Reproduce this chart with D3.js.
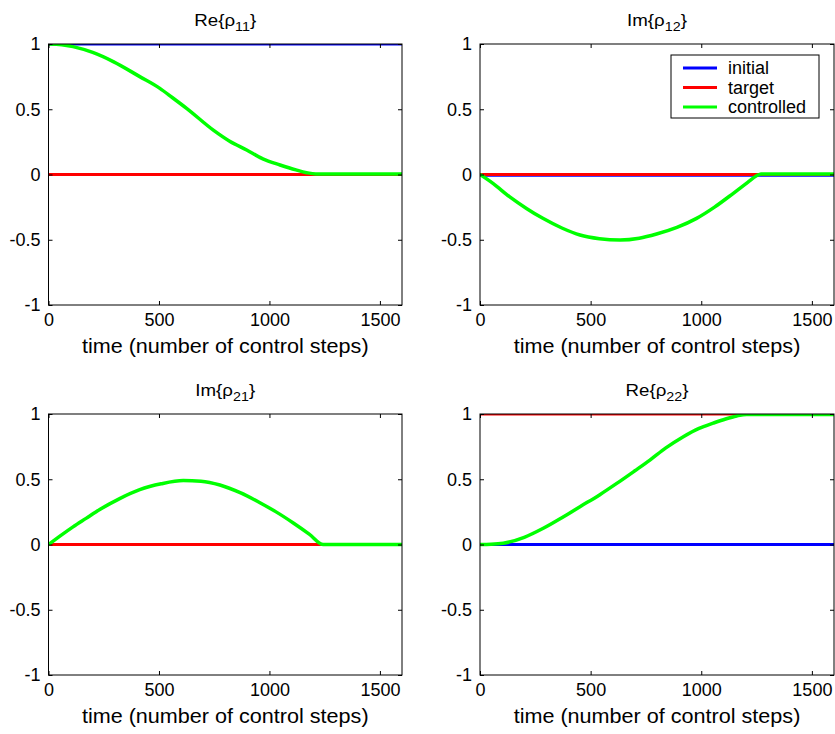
<!DOCTYPE html>
<html>
<head>
<meta charset="utf-8">
<script src="https://cdn.jsdelivr.net/npm/d3@7"></script>
<style>
  body { margin: 0; background: #fff; }
  text { font-family: "Liberation Sans", Arial, Helvetica, sans-serif; fill: #000; }
</style>
</head>
<body>
<div id="vis"></div>
<script>
const width = 835;
const height = 734;

// x ticks / y ticks
const xTicks = [0, 500, 1000, 1500];
const yTicks = [-1, -0.5, 0, 0.5, 1];
const xLabel = "time (number of control steps)";
const seriesNames = ["initial", "target", "controlled"];
const seriesColors = ["#0000ff", "#ff0000", "#00ff00"];

// panel titles: [prefix, subscript]
const titles = [["Re{\u03c1", "11"], ["Im{\u03c1", "12"], ["Im{\u03c1", "21"], ["Re{\u03c1", "22"]];

// initial and target values (constant over time)
const initialVals = [1, -0.006, 0, 0];
const targetVals = [0, 0, 0, 1];

// controlled trajectories
const rho11Time = [0, 60, 111, 200, 293, 413, 504, 560, 625, 746, 820, 897, 970, 1048, 1120, 1168, 1210, 1600];
const rho11Ctrl = [1, 0.995, 0.98, 0.935, 0.865, 0.75, 0.66, 0.59, 0.507, 0.34, 0.255, 0.188, 0.12, 0.073, 0.035, 0.014, 0.004, 0.004];

const rho12Time = [0, 60, 133, 210, 284, 370, 452, 540, 633, 720, 798, 890, 979, 1060, 1145, 1210, 1250, 1270, 1600];
const rho12Ctrl = [0, -0.07, -0.17, -0.26, -0.336, -0.41, -0.464, -0.492, -0.502, -0.488, -0.456, -0.405, -0.336, -0.25, -0.144, -0.06, -0.01, 0.004, 0.004];

const rho21Time = [0, 50, 111, 170, 232, 320, 413, 510, 610, 690, 776, 870, 957, 1030, 1108, 1180, 1244, 1600];
const rho21Ctrl = [0, 0.062, 0.135, 0.2, 0.268, 0.35, 0.42, 0.465, 0.49, 0.485, 0.456, 0.395, 0.32, 0.25, 0.165, 0.08, 0, 0];

const rho22Time = [0, 50, 105, 200, 286, 370, 452, 540, 618, 700, 768, 840, 919, 990, 1054, 1110, 1160, 1205, 1600];
const rho22Ctrl = [0, 0.002, 0.01, 0.055, 0.124, 0.205, 0.29, 0.38, 0.468, 0.565, 0.647, 0.74, 0.826, 0.89, 0.93, 0.962, 0.985, 0.997, 0.997];

const ctrlTimes = [rho11Time, rho12Time, rho21Time, rho22Time];
const ctrlVals = [rho11Ctrl, rho12Ctrl, rho21Ctrl, rho22Ctrl];

// panel boxes: left, right, top, bottom
const boxes = [
    [48.5, 402, 44, 305],
    [480, 834, 44, 305],
    [48.5, 402, 414, 675],
    [480, 834, 414, 675]
];

var svg = d3
    .select("#vis")
    .append("svg")
    .attr("width", width)
    .attr("height", height);

boxes.forEach(function(b, i) {
    const x = d3.scaleLinear().domain([0, 1600]).range([b[0], b[1]]);
    const y = d3.scaleLinear().domain([-1, 1]).range([b[3], b[2]]);

    const g = svg.append("g");

    g.append("clipPath")
        .attr("id", "clip" + i)
        .append("rect")
        .attr("x", b[0])
        .attr("y", b[2])
        .attr("width", b[1] - b[0])
        .attr("height", b[3] - b[2]);

    const line = d3.line()
        .x(function(d) { return x(d[0]); })
        .y(function(d) { return y(d[1]); });

    const plot = g.append("g").attr("clip-path", "url(#clip" + i + ")");

    plot.append("path")
        .datum([[0, initialVals[i]], [1600, initialVals[i]]])
        .attr("d", line)
        .attr("fill", "none")
        .attr("stroke", seriesColors[0])
        .attr("stroke-width", 3);

    plot.append("path")
        .datum([[0, targetVals[i]], [1600, targetVals[i]]])
        .attr("d", line)
        .attr("fill", "none")
        .attr("stroke", seriesColors[1])
        .attr("stroke-width", 3);

    plot.append("path")
        .datum(ctrlTimes[i].map(function(t, k) { return [t, ctrlVals[i][k]]; }))
        .attr("d", line.curve(d3.curveMonotoneX))
        .attr("fill", "none")
        .attr("stroke", seriesColors[2])
        .attr("stroke-width", 3.5)
        .attr("stroke-linejoin", "round");

    // axes, ticks pointing inward on all four sides
    const tickFmt = function(d) { return d; };
    g.append("g")
        .attr("transform", "translate(0," + b[3] + ")")
        .call(d3.axisBottom(x).tickValues(xTicks).tickSizeInner(-4).tickSizeOuter(0).tickPadding(8).tickFormat(tickFmt));
    g.append("g")
        .attr("transform", "translate(0," + b[2] + ")")
        .call(d3.axisTop(x).tickValues(xTicks).tickSizeInner(-4).tickSizeOuter(0).tickFormat(""));
    g.append("g")
        .attr("transform", "translate(" + b[0] + ",0)")
        .call(d3.axisLeft(y).tickValues(yTicks).tickSizeInner(-4).tickSizeOuter(0).tickPadding(8).tickFormat(tickFmt));
    g.append("g")
        .attr("transform", "translate(" + b[1] + ",0)")
        .call(d3.axisRight(y).tickValues(yTicks).tickSizeInner(-4).tickSizeOuter(0).tickFormat(""));

    g.selectAll(".tick text")
        .style("font-size", "18px")
        .style("font-family", "Liberation Sans, Arial, sans-serif");
    g.selectAll(".domain").remove();

    g.append("rect")
        .attr("x", b[0])
        .attr("y", b[2])
        .attr("width", b[1] - b[0])
        .attr("height", b[3] - b[2])
        .attr("fill", "none")
        .attr("stroke", "#000")
        .attr("stroke-width", 1);

    // title with subscript, slightly widened like the original
    const title = g.append("text")
        .attr("transform", "translate(" + (b[0] + b[1]) / 2 + "," + (b[2] - 18) + ") scale(1.1,1)")
        .attr("text-anchor", "middle")
        .style("font-size", "17px");
    title.append("tspan").text(titles[i][0]);
    title.append("tspan").attr("dy", 5).style("font-size", "13px").text(titles[i][1]);
    title.append("tspan").attr("dy", -5).text("}");

    g.append("text")
        .attr("transform", "translate(" + (b[0] + b[1]) / 2 + "," + (b[3] + 48) + ") scale(1.08,1)")
        .attr("text-anchor", "middle")
        .style("font-size", "20px")
        .text(xLabel);
});

// legend in the upper right panel
const legend = svg.append("g").attr("transform", "translate(671,55)");
legend.append("rect")
    .attr("width", 148)
    .attr("height", 63)
    .attr("fill", "#fff")
    .attr("stroke", "#000")
    .attr("stroke-width", 1);
seriesNames.forEach(function(name, k) {
    const yy = 13 + k * 19.5;
    legend.append("line")
        .attr("x1", 12).attr("x2", 46)
        .attr("y1", yy).attr("y2", yy)
        .attr("stroke", seriesColors[k])
        .attr("stroke-width", 3);
    legend.append("text")
        .attr("x", 57)
        .attr("y", yy)
        .attr("dy", "0.35em")
        .style("font-size", "18px")
        .text(name);
});
</script>
</body>
</html>
